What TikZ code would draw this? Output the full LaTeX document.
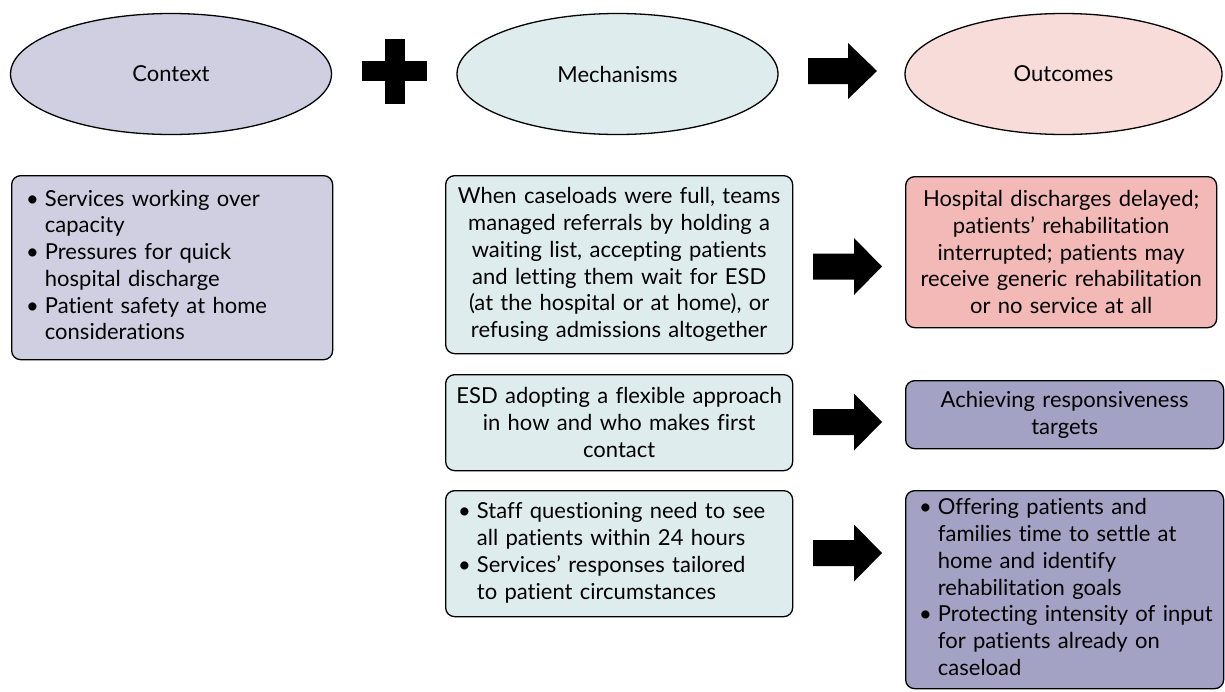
\documentclass[tikz,border=0pt]{standalone}
\usepackage{fontspec}
\setmainfont{Lato}[Ligatures=NoCommon]
\usetikzlibrary{shapes.geometric}
\definecolor{ctxfill}{HTML}{D0CFE2}
\definecolor{mechfill}{HTML}{DFECEE}
\definecolor{outfill}{HTML}{F8DCDA}
\definecolor{redfill}{HTML}{F3B9B7}
\definecolor{purfill}{HTML}{A3A2C4}
\newcommand{\fsz}{\fontsize{22}{26.7}\selectfont}
\newcommand{\blkarrow}[2]{% left x, center y
  \fill (#1,#2-13) -- (#1+41,#2-13) -- (#1+41,#2-28.5) -- (#1+69,#2) -- (#1+41,#2+28.5) -- (#1+41,#2+13) -- (#1,#2+13) -- cycle;}
\tikzset{
  oval/.style={ellipse, draw, line width=1.3pt, inner sep=0pt, minimum width=321pt, minimum height=121pt, font=\fsz},
  cbox/.style={draw, line width=1.3pt, rounded corners=9pt, anchor=north west, inner sep=0pt, align=center, font=\fsz},
  lbox/.style={draw, line width=1.3pt, rounded corners=9pt, anchor=north west, inner sep=0pt, align=left, font=\fsz},
}
\begin{document}
\begin{tikzpicture}[x=1pt,y=-1pt]
\useasboundingbox (0,0) rectangle (1225,691);
% ovals
\node[oval, fill=ctxfill] (ctx) at (171,74) {Context};
\node[oval, fill=mechfill] (mech) at (617.5,74) {Mechanisms};
\node[oval, fill=outfill, minimum width=317pt] (out) at (1063.5,74) {Outcomes};
% plus sign
\fill (384.5,38.5) rectangle (404.5,103.5);
\fill (362,61) rectangle (427,81);
% arrow top
\fill (808,58) -- (848,58) -- (848,43) -- (877,71) -- (848,99) -- (848,84) -- (808,84) -- cycle;
% context box
\node[lbox, fill=ctxfill, minimum width=321pt, minimum height=184pt, text width=321pt] (cbx) at (11,175)
 {\hspace*{14.5pt}\begin{tabular}{@{}l@{\hspace{6pt}}l@{}}
 \textbullet & Services working over\\
  & capacity\\
 \textbullet & Pressures for quick\\
  & hospital discharge\\
 \textbullet & Patient safety at home\\
  & considerations
 \end{tabular}};
% mechanisms
\node[cbox, fill=mechfill, minimum width=347pt, minimum height=178pt, text width=347pt] (m1) at (445,175)
 {When caseloads were full, teams\\managed referrals by holding a\\waiting list, accepting patients\\and letting them wait for ESD\\(at the hospital or at home), or\\refusing admissions altogether};
\node[cbox, fill=mechfill, minimum width=347pt, minimum height=96pt, text width=347pt] (m2) at (445,374)
 {ESD adopting a flexible approach\\in how and who makes first\\contact};
\node[lbox, fill=mechfill, minimum width=347pt, minimum height=126pt, text width=347pt] (m3) at (445,490)
 {\hspace*{12.5pt}\begin{tabular}{@{}l@{\hspace{6pt}}l@{}}
 \textbullet & Staff questioning need to see\\
  & all patients within 24 hours\\
 \textbullet & Services' responses tailored\\
  & to patient circumstances
 \end{tabular}};
% outcomes
\node[cbox, fill=redfill, minimum width=311pt, minimum height=151pt, text width=311pt] (o1) at (905,176)
 {Hospital discharges delayed;\\patients' rehabilitation\\interrupted; patients may\\receive generic rehabilitation\\or no service at all};
\node[cbox, fill=purfill, minimum width=318pt, minimum height=68pt, text width=318pt] (o2) at (905,380)
 {Achieving responsiveness\\targets};
\node[lbox, fill=purfill, minimum width=318pt, minimum height=198pt, text width=318pt] (o3) at (905,490)
 {\hspace*{13.5pt}\begin{tabular}{@{}l@{\hspace{6pt}}l@{}}
 \textbullet & Offering patients and\\
  & families time to settle at\\
  & home and identify\\
  & rehabilitation goals\\
 \textbullet & Protecting intensity of input\\
  & for patients already on\\
  & caseload
 \end{tabular}};
% block arrows
\blkarrow{813}{266.5}
\blkarrow{813}{422}
\blkarrow{813}{553}
\end{tikzpicture}
\end{document}
